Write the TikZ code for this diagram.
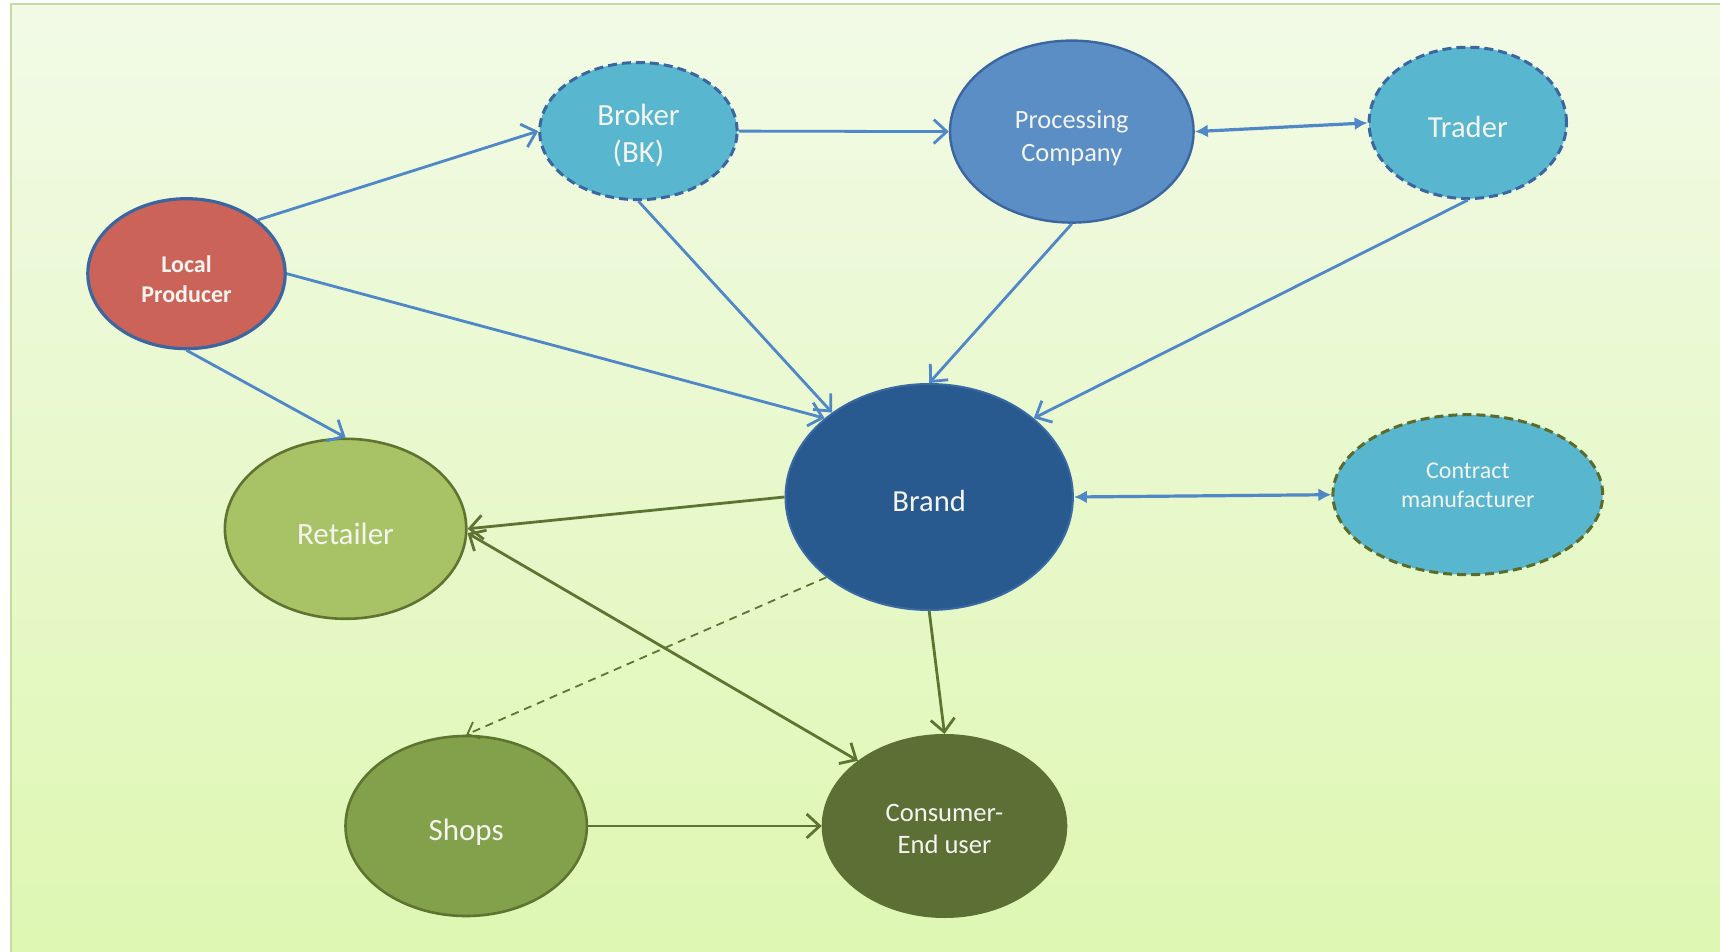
\documentclass[tikz,border=0pt]{standalone}
\usepackage{fontspec}
\setmainfont{Carlito}
\usetikzlibrary{shapes.geometric,arrows.meta}
\definecolor{bgtop}{HTML}{F2FAE6}
\definecolor{bgbot}{HTML}{DEF7B2}
\definecolor{frameC}{HTML}{C6DBA2}
\definecolor{lpfill}{HTML}{CB6358}
\definecolor{bluedraw}{HTML}{3C66A0}
\definecolor{cyanfill}{HTML}{58B6CF}
\definecolor{pcfill}{HTML}{5A8EC5}
\definecolor{brandfill}{HTML}{28598F}
\definecolor{branddraw}{HTML}{3A6AA4}
\definecolor{olivedraw}{HTML}{5A6B2B}
\definecolor{retfill}{HTML}{A8C266}
\definecolor{shopfill}{HTML}{83A04A}
\definecolor{greendraw}{HTML}{5E7430}
\definecolor{consfill}{HTML}{5C6F35}
\definecolor{bluearrow}{HTML}{4F87C7}
\definecolor{greenarrow}{HTML}{5D7433}
\definecolor{txt}{HTML}{F4F4F0}
\newcommand{\lbl}[2]{\raisebox{#1}[\height][\depth]{\begin{tabular}{@{}c@{}}#2\end{tabular}}}
\tikzset{
  oval/.style={ellipse, inner sep=0pt, text=txt, align=center},
  dashborder/.style={line width=1.5pt, dash pattern=on 4.5pt off 2.5pt},
  barb/.tip={Straight Barb[length=6.5pt,width=12pt,line width=1.4pt]},
  blueflow/.style={draw=bluearrow, line width=1.4pt, -barb},
  greenflow/.style={draw=greenarrow, line width=1.4pt, -barb},
  greenboth/.style={draw=greenarrow, line width=1.4pt, barb-barb},
  blueboth/.style={draw=bluearrow, line width=1.6pt, {Latex[length=6.5pt,width=6.5pt]}-{Latex[length=6.5pt,width=6.5pt]}},
  greendashed/.style={draw=greenarrow, line width=0.9pt, dash pattern=on 4pt off 3pt, -{Straight Barb[length=5pt,width=9pt,line width=0.9pt]}}
}
\begin{document}
\begin{tikzpicture}[x=0.5pt,y=-0.5pt]
\useasboundingbox (0,0) rectangle (1720,952);
\fill[white] (0,0) rectangle (1720,952);
\shade[top color=bgtop, bottom color=bgbot] (11,4) rectangle (1724,956);
\draw[frameC, line width=1.2pt] (11,958) -- (11,4) -- (1724,4);

\node[oval, fill=lpfill, draw=bluedraw, line width=1.6pt, minimum width=98.7pt, minimum height=75pt,
  font=\bfseries\fontsize{12}{14.8}\selectfont] (lp) at (186.5,273.7) {\lbl{-3.8pt}{Local\\Producer}};
\node[oval, fill=cyanfill, draw=bluedraw, dashborder, minimum width=98.7pt, minimum height=68.6pt,
  font=\fontsize{15.4}{18.6}\selectfont] (broker) at (638.4,131.1) {\lbl{-2.7pt}{Broker\\(BK)}};
\node[oval, fill=pcfill, draw=bluedraw, line width=1.2pt, minimum width=121.8pt, minimum height=91pt,
  font=\fontsize{13.2}{16.5}\selectfont] (pc) at (1071.8,131.6) {\lbl{-3.3pt}{Processing\\Company}};
\node[oval, fill=cyanfill, draw=bluedraw, dashborder, minimum width=98.7pt, minimum height=75.7pt,
  font=\fontsize{15.3}{18}\selectfont] (trader) at (1467.8,122.9) {\lbl{-3.8pt}{Trader}};
\node[oval, fill=brandfill, draw=branddraw, line width=1pt, minimum width=143.7pt, minimum height=113pt,
  font=\fontsize{15.3}{18}\selectfont] (brand) at (929.2,497) {\lbl{-3.8pt}{Brand}};
\node[oval, fill=cyanfill, draw=olivedraw, dashborder, minimum width=134.9pt, minimum height=80pt,
  font=\fontsize{12}{14.8}\selectfont] (cm) at (1467.8,494.7) {\lbl{3.8pt}{Contract\\manufacturer}};
\node[oval, fill=retfill, draw=greendraw, line width=1.3pt, minimum width=120.7pt, minimum height=90pt,
  font=\fontsize{15.5}{18}\selectfont] (retailer) at (345.6,528.8) {\lbl{-4.4pt}{Retailer}};
\node[oval, fill=shopfill, draw=greendraw, line width=1.3pt, minimum width=120.7pt, minimum height=90pt,
  font=\fontsize{15.5}{18}\selectfont] (shops) at (466.2,826) {\lbl{-3.8pt}{Shops}};
\node[oval, fill=consfill, draw=consfill, line width=1pt, minimum width=121.8pt, minimum height=91pt,
  font=\fontsize{13.3}{16}\selectfont] (consumer) at (944.5,826) {\lbl{-2.7pt}{Consumer-\\End user}};

\draw[blueflow] (lp.37) -- (broker.west);
\draw[blueflow] (lp.east) -- (brand.143);
\draw[blueflow] (lp.south) -- (retailer.north);
\draw[blueflow] (broker.east) -- (pc.west);
\draw[blueflow] (broker.south) -- (brand.139);
\draw[blueflow] (pc.south) -- (brand.north);
\draw[blueboth] (pc.east) -- (trader.west);
\draw[blueflow] (trader.south) -- (brand.37);
\draw[blueboth] (brand.east) -- (cm.west);
\draw[greenflow] (brand.west) -- (retailer.east);
\draw[greenboth] (retailer.-2) -- (consumer.143);
\draw[greenflow] (brand.south) -- (consumer.north);
\draw[greenflow] (shops.east) -- (consumer.west);
\draw[greendashed] (brand.218) -- (shops.north);
\end{tikzpicture}
\end{document}
